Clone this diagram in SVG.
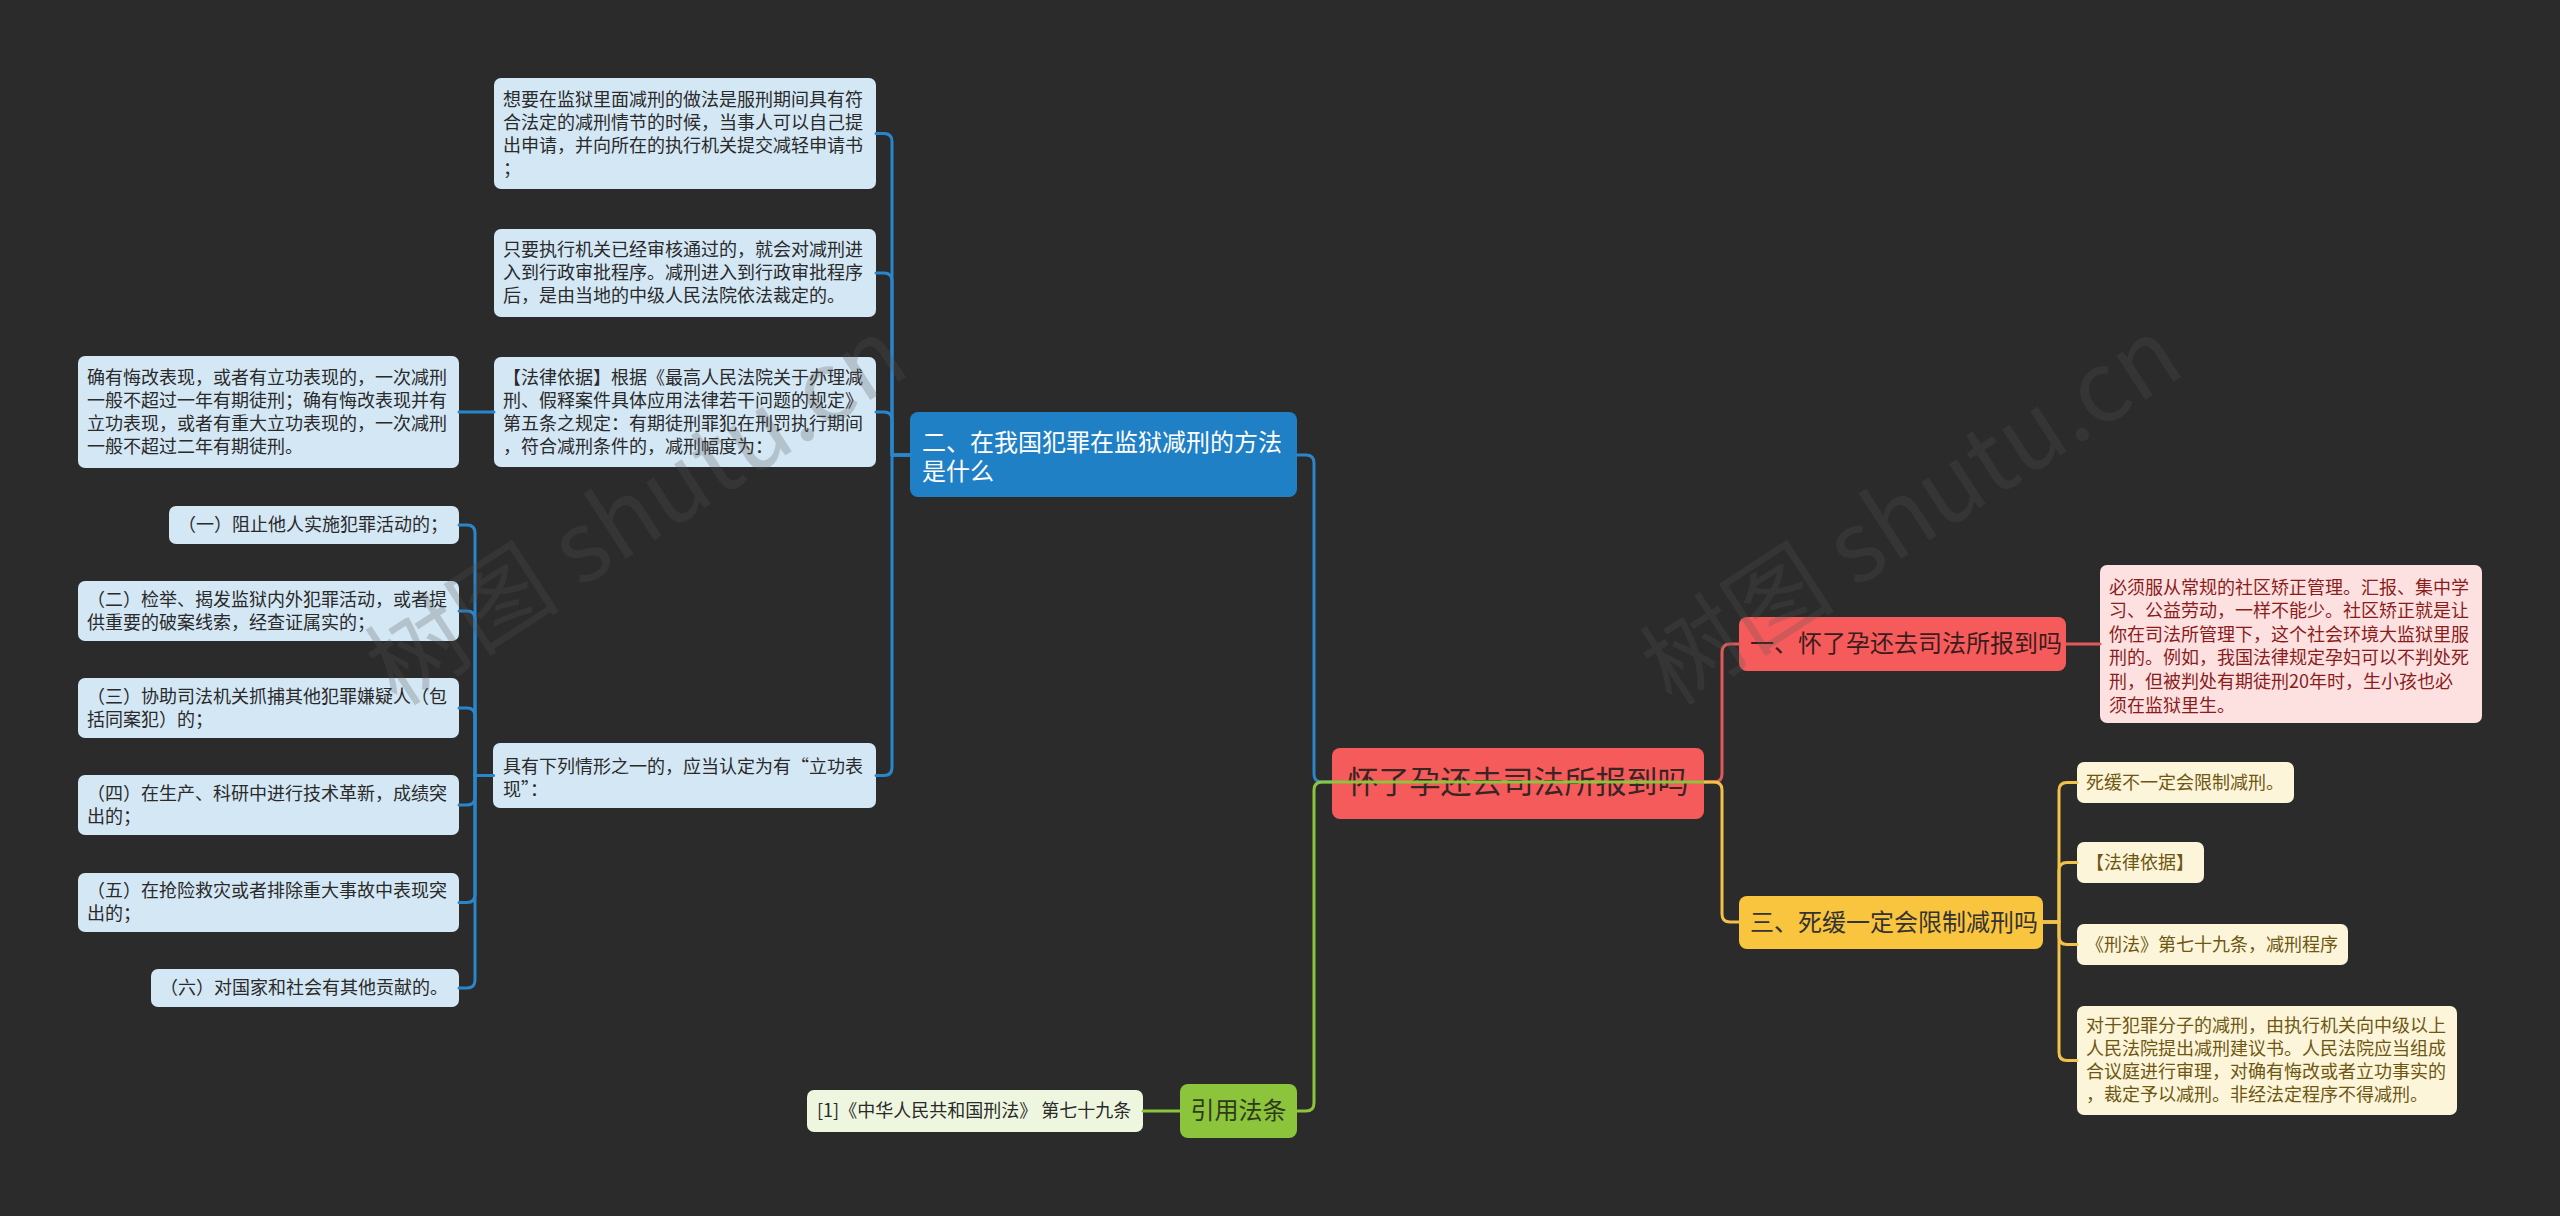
<svg xmlns="http://www.w3.org/2000/svg" width="2560" height="1216" viewBox="0 0 2560 1216">
<style>
text{font-family:"Noto Sans CJK SC","Noto Sans",sans-serif;}
.t18{font-size:18px;}
.lb rect{fill:#d4e7f5;}
.lb text{fill:#2a2a2a;}
.yl rect{fill:#fdf5d9;}
.yl text{fill:#6e5712;}
.ln{fill:none;stroke-width:3;stroke-linecap:round;stroke-linejoin:round;}
.bl{stroke:#2a86cc;}
.gr{stroke:#8cc43c;}
.rd{stroke:#e05a5a;}
.ye{stroke:#f2c14a;}
.wm{font-size:98px;fill:#545454;fill-opacity:0.25;}
</style>
<rect x="0" y="0" width="2560" height="1216" fill="#2b2b2b"/>

<g id="root">
<rect x="1332" y="748" width="372" height="71" rx="8" fill="#f65b5b"/>
<text x="1518" y="793" font-size="31" fill="#3a2424" text-anchor="middle">怀了孕还去司法所报到吗</text>
</g>

<g id="n-blue">
<rect x="910" y="412" width="387" height="85" rx="8" fill="#1f80c6"/>
<text x="922" y="451" font-size="24" fill="#ffffff">二、在我国犯罪在监狱减刑的方法</text>
<text x="922" y="480" font-size="24" fill="#ffffff">是什么</text>
</g>

<g id="c1" class="lb">
<rect x="494" y="78" width="382" height="111" rx="7"/>
<text class="t18" x="503" y="106">想要在监狱里面减刑的做法是服刑期间具有符</text>
<text class="t18" x="503" y="129">合法定的减刑情节的时候，当事人可以自己提</text>
<text class="t18" x="503" y="152">出申请，并向所在的执行机关提交减轻申请书</text>
<text class="t18" x="503" y="175">；</text>
</g>
<g id="c2" class="lb">
<rect x="494" y="229" width="382" height="88" rx="7"/>
<text class="t18" x="503" y="256">只要执行机关已经审核通过的，就会对减刑进</text>
<text class="t18" x="503" y="279">入到行政审批程序。减刑进入到行政审批程序</text>
<text class="t18" x="503" y="302">后，是由当地的中级人民法院依法裁定的。</text>
</g>
<g id="c3" class="lb">
<rect x="494" y="357" width="382" height="110" rx="7"/>
<text class="t18" x="503" y="384">【法律依据】根据《最高人民法院关于办理减</text>
<text class="t18" x="503" y="407">刑、假释案件具体应用法律若干问题的规定》</text>
<text class="t18" x="503" y="430">第五条之规定：有期徒刑罪犯在刑罚执行期间</text>
<text class="t18" x="503" y="453">，符合减刑条件的，减刑幅度为：</text>
</g>
<g id="c3a" class="lb">
<rect x="78" y="356" width="381" height="112" rx="7"/>
<text class="t18" x="87" y="384">确有悔改表现，或者有立功表现的，一次减刑</text>
<text class="t18" x="87" y="407">一般不超过一年有期徒刑；确有悔改表现并有</text>
<text class="t18" x="87" y="430">立功表现，或者有重大立功表现的，一次减刑</text>
<text class="t18" x="87" y="453">一般不超过二年有期徒刑。</text>
</g>
<g id="c4" class="lb">
<rect x="493" y="743" width="383" height="65" rx="7"/>
<text class="t18" x="503" y="773">具有下列情形之一的，应当认定为有“立功表</text>
<text class="t18" x="503" y="796">现”：</text>
</g>
<g id="k1" class="lb">
<rect x="169" y="506" width="290" height="38" rx="7"/>
<text class="t18" x="178" y="531">（一）阻止他人实施犯罪活动的；</text>
</g>
<g id="k2" class="lb">
<rect x="78" y="581" width="381" height="60" rx="7"/>
<text class="t18" x="87" y="606">（二）检举、揭发监狱内外犯罪活动，或者提</text>
<text class="t18" x="87" y="629">供重要的破案线索，经查证属实的；</text>
</g>
<g id="k3" class="lb">
<rect x="78" y="678" width="381" height="60" rx="7"/>
<text class="t18" x="87" y="703">（三）协助司法机关抓捕其他犯罪嫌疑人（包</text>
<text class="t18" x="87" y="726">括同案犯）的；</text>
</g>
<g id="k4" class="lb">
<rect x="78" y="775" width="381" height="60" rx="7"/>
<text class="t18" x="87" y="800">（四）在生产、科研中进行技术革新，成绩突</text>
<text class="t18" x="87" y="823">出的；</text>
</g>
<g id="k5" class="lb">
<rect x="78" y="873" width="381" height="59" rx="7"/>
<text class="t18" x="87" y="897">（五）在抢险救灾或者排除重大事故中表现突</text>
<text class="t18" x="87" y="920">出的；</text>
</g>
<g id="k6" class="lb">
<rect x="151" y="969" width="308" height="38" rx="7"/>
<text class="t18" x="160" y="994">（六）对国家和社会有其他贡献的。</text>
</g>

<g id="n-green">
<rect x="1180" y="1084" width="117" height="54" rx="8" fill="#8cc43c"/>
<text x="1238.5" y="1119" font-size="24" fill="#2f3a1c" text-anchor="middle">引用法条</text>
</g>
<g id="g1">
<rect x="807" y="1090" width="336" height="42" rx="7" fill="#eef6e0"/>
<text class="t18" x="817" y="1117" fill="#2a2a2a">[1]《中华人民共和国刑法》 第七十九条</text>
</g>

<g id="n-red">
<rect x="1739" y="617" width="327" height="54" rx="8" fill="#f65b5b"/>
<text x="1750" y="652" font-size="24" fill="#3b1c1c">一、怀了孕还去司法所报到吗</text>
</g>
<g id="r1">
<rect x="2100" y="565" width="382" height="158" rx="7" fill="#fde1e1"/>
<g class="t18" fill="#8a1c1c">
<text x="2109" y="594">必须服从常规的社区矫正管理。汇报、集中学</text>
<text x="2109" y="617">习、公益劳动，一样不能少。社区矫正就是让</text>
<text x="2109" y="641">你在司法所管理下，这个社会环境大监狱里服</text>
<text x="2109" y="664">刑的。例如，我国法律规定孕妇可以不判处死</text>
<text x="2109" y="688">刑，但被判处有期徒刑20年时，生小孩也必</text>
<text x="2109" y="712">须在监狱里生。</text>
</g>
</g>

<g id="n-yellow">
<rect x="1739" y="896" width="304" height="53" rx="8" fill="#fac53e"/>
<text x="1750" y="931" font-size="24" fill="#333333">三、死缓一定会限制减刑吗</text>
</g>
<g id="y1" class="yl">
<rect x="2077" y="762" width="217" height="41" rx="7"/>
<text class="t18" x="2086" y="789">死缓不一定会限制减刑。</text>
</g>
<g id="y2" class="yl">
<rect x="2077" y="842" width="127" height="41" rx="7"/>
<text class="t18" x="2086" y="869">【法律依据】</text>
</g>
<g id="y3" class="yl">
<rect x="2077" y="924" width="271" height="41" rx="7"/>
<text class="t18" x="2086" y="951">《刑法》第七十九条，减刑程序</text>
</g>
<g id="y4" class="yl">
<rect x="2077" y="1006" width="380" height="109" rx="7"/>
<text class="t18" x="2086" y="1032">对于犯罪分子的减刑，由执行机关向中级以上</text>
<text class="t18" x="2086" y="1055">人民法院提出减刑建议书。人民法院应当组成</text>
<text class="t18" x="2086" y="1078">合议庭进行审理，对确有悔改或者立功事实的</text>
<text class="t18" x="2086" y="1101">，裁定予以减刑。非经法定程序不得减刑。</text>
</g>

<g id="connectors">
<path class="ln bl" d="M910,455 H892 V141.5 Q892,133.5 884,133.5 H876"/>
<path class="ln bl" d="M910,455 H892 V281 Q892,273 884,273 H876"/>
<path class="ln bl" d="M910,455 H892 V420 Q892,412 884,412 H876"/>
<path class="ln bl" d="M910,455 H892 V767.5 Q892,775.5 884,775.5 H876"/>
<path class="ln bl" d="M494,412 H459"/>
<path class="ln bl" d="M493,775.5 H475 V533 Q475,525 467,525 H459"/>
<path class="ln bl" d="M493,775.5 H475 V619 Q475,611 467,611 H459"/>
<path class="ln bl" d="M493,775.5 H475 V716 Q475,708 467,708 H459"/>
<path class="ln bl" d="M493,775.5 H475 V797 Q475,805 467,805 H459"/>
<path class="ln bl" d="M493,775.5 H475 V894.5 Q475,902.5 467,902.5 H459"/>
<path class="ln bl" d="M493,775.5 H475 V980 Q475,988 467,988 H459"/>
<path class="ln bl" d="M1297,455 H1306 Q1314,455 1314,463 V774 Q1314,782 1322,782 H1332"/>
<path class="ln gr" d="M1705,782 H1322 Q1314,782 1314,790 V1103 Q1314,1111 1306,1111 H1297"/>
<path class="ln gr" d="M1143,1111 H1180"/>
<path class="ln rd" d="M1705,782 H1714 Q1722,782 1722,774 V652 Q1722,644 1730,644 H1739"/>
<path class="ln rd" d="M2066,644 H2100"/>
<path class="ln ye" d="M1705,782 H1714 Q1722,782 1722,790 V914 Q1722,922 1730,922 H1739"/>
<path class="ln ye" d="M2043,922 H2059 V790.5 Q2059,782.5 2067,782.5 H2077"/>
<path class="ln ye" d="M2043,922 H2059 V870.5 Q2059,862.5 2067,862.5 H2077"/>
<path class="ln ye" d="M2043,922 H2059 V936.5 Q2059,944.5 2067,944.5 H2077"/>
<path class="ln ye" d="M2043,922 H2059 V1052.5 Q2059,1060.5 2067,1060.5 H2077"/>
</g>

<g id="watermark">
<text class="wm" text-anchor="middle" transform="translate(655,540) rotate(-33)">树图 shutu.cn</text>
<text class="wm" text-anchor="middle" transform="translate(1930,540) rotate(-33)">树图 shutu.cn</text>
</g>
</svg>
